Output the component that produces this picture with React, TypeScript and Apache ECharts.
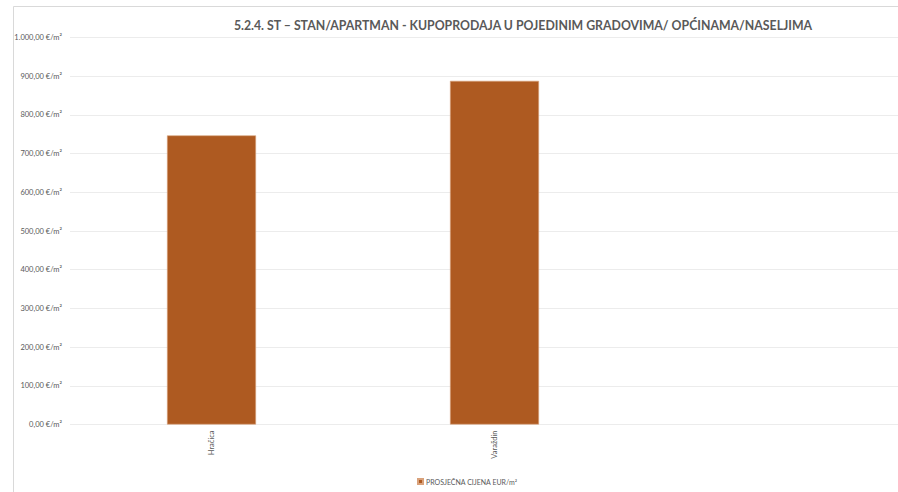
import React, { useEffect, useRef } from "react";
import * as echarts from "echarts";

const categories = ["Hračica", "Varaždin"];
const values: number[] = [747, 888];
const seriesName = "PROSJEČNA CIJENA EUR/m²";
const titleText = "5.2.4. ST – STAN/APARTMAN - KUPOPRODAJA U POJEDINIM GRADOVIMA/ OPĆINAMA/NASELJIMA";
const yMin = 0;
const yMax = 1000;
const yInterval = 100;

const fmt = (v: number) => {
  const fixed = v.toFixed(2);
  const [int, dec] = fixed.split(".");
  const intWithDots = int.replace(/\B(?=(\d{3})+(?!\d))/g, ".");
  return `${intWithDots},${dec} €/m²`;
};

export default function App() {
  const ref = useRef<HTMLDivElement>(null);
  useEffect(() => {
    if (!ref.current) return;
    const chart = echarts.init(ref.current, undefined, { renderer: "svg" });
    chart.setOption({
      animation: false,
      backgroundColor: "#ffffff",
      textStyle: { fontFamily: "Lato, 'Open Sans', sans-serif" },
      title: {
        text: titleText,
        left: 518,
        textAlign: "center",
        top: 14,
        textStyle: { fontSize: 12.3, fontWeight: "bold", color: "#595959", fontFamily: "Lato, sans-serif" },
      },
      graphic: [
        {
          type: "rect",
          shape: { x: 13.5, y: 6.5, width: 1000, height: 1000 },
          style: { fill: "none", stroke: "#d9d9d9", lineWidth: 1 },
          silent: true,
          z: -1,
        },
      ],
      legend: {
        data: [seriesName],
        left: 412,
        top: 473,
        itemWidth: 5,
        itemHeight: 5,
        itemGap: 4,
        icon: "rect",
        textStyle: { fontSize: 7, color: "#595959", padding: [0, 0, 0, -2] },
      },
      grid: [
        { left: 70, top: 37.5, width: 566, height: 387, containLabel: false },
        { left: 70, top: 37.5, right: 0, height: 387, containLabel: false },
      ],
      xAxis: [
        {
          type: "category",
          gridIndex: 0,
          data: categories,
          axisLine: { show: false },
          axisTick: { show: false },
          axisLabel: { rotate: 90, fontSize: 7.5, color: "#595959", margin: 6 },
          splitLine: { show: false },
        },
        {
          type: "value",
          gridIndex: 1,
          show: false,
        },
      ],
      yAxis: [
        {
          type: "value",
          gridIndex: 0,
          min: yMin,
          max: yMax,
          interval: yInterval,
          axisLine: { show: false },
          axisTick: { show: false },
          axisLabel: { show: false },
          splitLine: { show: false },
        },
        {
          type: "value",
          gridIndex: 1,
          min: yMin,
          max: yMax,
          interval: yInterval,
          axisLine: { show: false },
          axisTick: { show: false },
          axisLabel: { formatter: fmt, fontSize: 7.5, color: "#595959", margin: 8 },
          splitLine: { lineStyle: { color: "#ececec", width: 1 } },
        },
      ],
      series: [
        {
          name: seriesName,
          type: "bar",
          xAxisIndex: 0,
          yAxisIndex: 0,
          data: values,
          barWidth: 89,
          itemStyle: { color: "#ae5a21", borderColor: "#d9a27c", borderWidth: 0.6 },
        },
      ],
    });
    return () => chart.dispose();
  }, []);
  return (
    <div
      ref={ref}
      style={{ position: "fixed", left: 0, top: 0, width: 898, height: 492 }}
    />
  );
}
